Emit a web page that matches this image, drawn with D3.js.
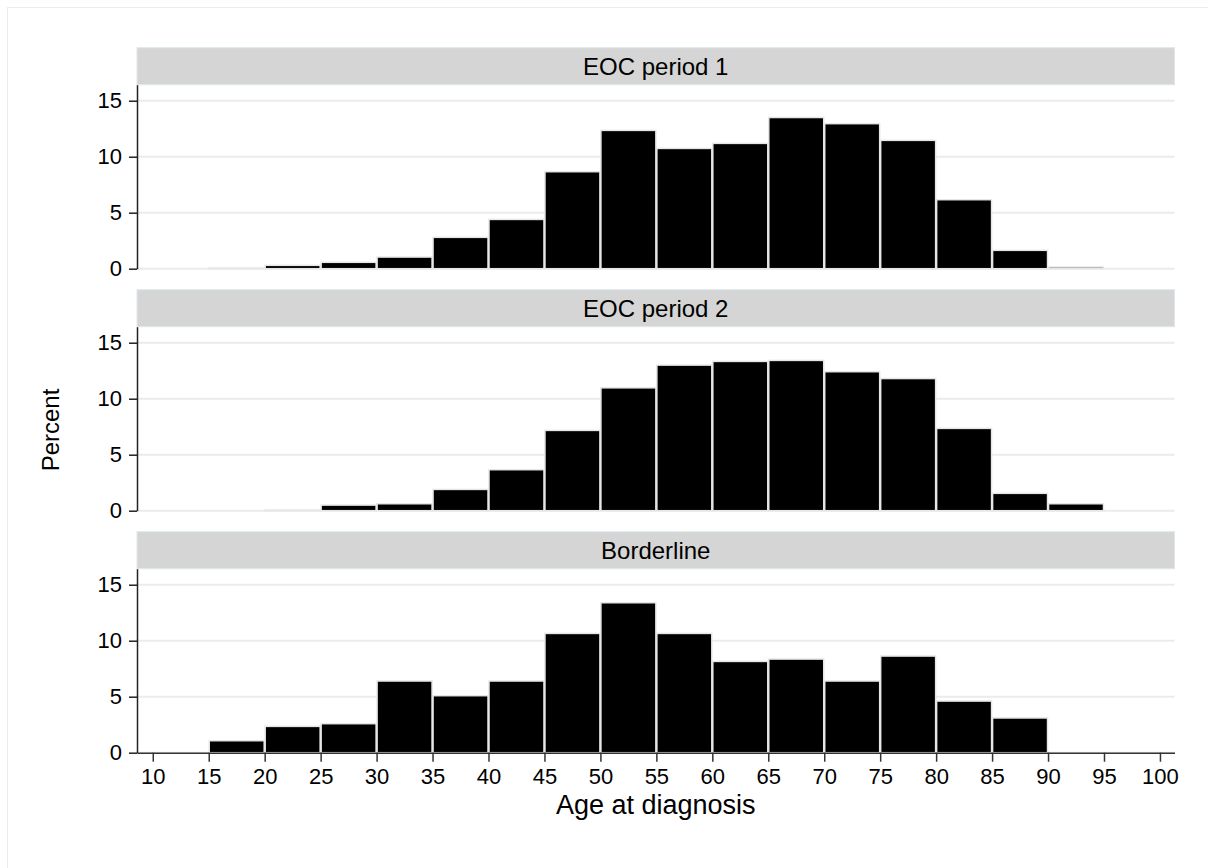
<!DOCTYPE html>
<meta charset="utf-8">
<script src="https://d3js.org/d3.v7.min.js"></script>
<style>
body { margin: 0; background: #fff; }
text { font-family: "Liberation Sans", Arial, sans-serif; fill: #000; }
</style>
<div id="chart"></div>
<script>
// histogram bins (lower edge, width 5)
var binStart = d3.range(10, 100, 5);
var panels = ["EOC period 1", "EOC period 2", "Borderline"];
var eoc1 = [0, 0.05, 0.3, 0.57, 1.04, 2.8, 4.4, 8.66, 12.35, 10.74, 11.19, 13.5, 12.95, 11.46, 6.16, 1.64, 0.15, 0];
var eoc2 = [0, 0, 0.05, 0.5, 0.62, 1.9, 3.66, 7.17, 10.97, 13.0, 13.33, 13.42, 12.41, 11.8, 7.35, 1.55, 0.62, 0];
var border = [0, 1.07, 2.35, 2.59, 6.4, 5.09, 6.4, 10.65, 13.39, 10.65, 8.15, 8.36, 6.4, 8.63, 4.61, 3.1, 0, 0];
var yTicks = [0, 5, 10, 15];
var xTicks = d3.range(10, 101, 5);
var series = [eoc1, eoc2, border];

var W = 1208, H = 868;
var svg = d3.select("#chart").append("svg")
  .attr("width", W).attr("height", H);

// faint outer frame
svg.append("rect")
  .attr("x", 7.5).attr("y", 7.5).attr("width", W).attr("height", H)
  .attr("fill", "none").attr("stroke", "#ececec");

var left = 137, right = 1174.5;
var x = d3.scaleLinear().domain([8.59, 101.3]).range([left, right]);

var baseY = [268.7, 510.7, 752.7];
var plotH = 184, stripH = 37;

panels.forEach(function(name, i) {
  var y0 = baseY[i];
  var y = d3.scaleLinear().domain([0, 16.43]).range([y0, y0 - plotH]);
  var g = svg.append("g");

  // strip
  g.append("rect")
    .attr("x", left).attr("y", y0 - plotH - stripH)
    .attr("width", right - left).attr("height", stripH)
    .attr("fill", "#d5d5d5").attr("stroke", "#dbe8ee");
  g.append("text")
    .attr("x", (left + right) / 2).attr("y", y0 - plotH - stripH / 2)
    .attr("dy", "0.36em").attr("text-anchor", "middle")
    .style("font-size", "24px").text(name);

  // gridlines
  g.selectAll(".grid").data(yTicks).enter().append("line")
    .attr("x1", left).attr("x2", right)
    .attr("y1", function(d) { return y(d); }).attr("y2", function(d) { return y(d); })
    .attr("stroke", "#ebebeb").attr("stroke-width", 2);

  // bars
  var data = binStart.map(function(b, k) { return {x0: b, x1: b + 5, v: series[i][k]}; })
    .filter(function(d) { return d.v > 0; });
  g.selectAll(".bar").data(data).enter().append("rect")
    .attr("x", function(d) { return x(d.x0) + 0.5; })
    .attr("width", function(d) { return x(d.x1) - x(d.x0) - 1; })
    .attr("y", function(d) { return y(d.v); })
    .attr("height", function(d) { return y0 - y(d.v); })
    .attr("fill", "#000").attr("stroke", "#e6e6e6").attr("stroke-width", 1.5);

  // y axis
  var ya = g.append("g").attr("transform", "translate(" + left + ",0)")
    .call(d3.axisLeft(y).tickValues(yTicks).tickSize(8).tickSizeOuter(0).tickPadding(7));
  ya.select(".domain").attr("stroke", "#222").attr("stroke-width", 1.5);
  ya.selectAll(".tick line").attr("stroke", "#222").attr("stroke-width", 1.5);
  ya.selectAll(".tick text").style("font-size", "22px")
    .style("font-family", "'Liberation Sans', Arial, sans-serif");

  if (i === 2) {
    var xa = g.append("g").attr("transform", "translate(0," + y0 + ")")
      .call(d3.axisBottom(x).tickValues(xTicks).tickSize(9).tickSizeOuter(0).tickPadding(7));
    xa.select(".domain").attr("stroke", "#333").attr("stroke-width", 1.5);
    xa.selectAll(".tick line").attr("stroke", "#333").attr("stroke-width", 1.5);
    xa.selectAll(".tick text").style("font-size", "22px")
      .style("font-family", "'Liberation Sans', Arial, sans-serif");
  }
});

// axis titles
svg.append("text")
  .attr("x", (left + right) / 2).attr("y", 814)
  .attr("text-anchor", "middle").style("font-size", "27px")
  .text("Age at diagnosis");

svg.append("text")
  .attr("transform", "translate(59,430) rotate(-90)")
  .attr("text-anchor", "middle").style("font-size", "24px")
  .text("Percent");
</script>
